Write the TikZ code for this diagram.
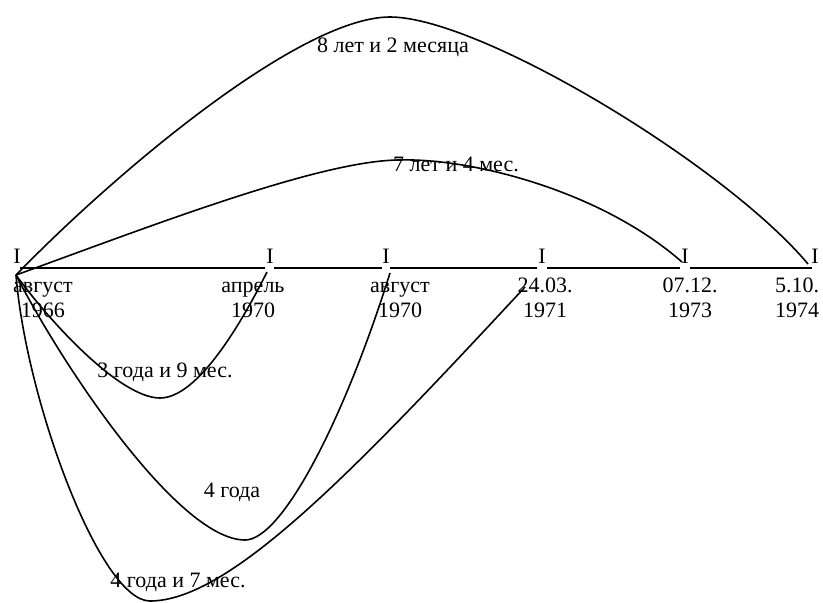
\documentclass[tikz,border=0pt]{standalone}
\usepackage{fontspec}
\setmainfont{Liberation Serif}
\begin{document}
\begin{tikzpicture}[x=1pt,y=-1pt,
  lbl/.style={font=\fontsize{22}{25}\selectfont, inner sep=0pt, anchor=base},
  datelbl/.style={lbl, align=center},
  tl/.style={line width=1.6pt},
  arcline/.style={line width=1.6pt}]
\useasboundingbox (0,0) rectangle (823,603);
% ticks
\node[lbl] (t1) at (17,263) {I};
\node[lbl] (t2) at (270,263) {I};
\node[lbl] (t3) at (386,263) {I};
\node[lbl] (t4) at (542,263) {I};
\node[lbl] (t5) at (685,263) {I};
\node[lbl] (t6) at (815,263) {I};
% timeline
\draw[tl] ([xshift=3pt,yshift=-5pt]t1.base) -- ([xshift=-5pt,yshift=-5pt]t2.base);
\draw[tl] ([xshift=4pt,yshift=-5pt]t2.base) -- ([xshift=-4pt,yshift=-5pt]t3.base);
\draw[tl] ([xshift=4pt,yshift=-5pt]t3.base) -- ([xshift=-5pt,yshift=-5pt]t4.base);
\draw[tl] ([xshift=5pt,yshift=-5pt]t4.base) -- ([xshift=-5pt,yshift=-5pt]t5.base);
\draw[tl] ([xshift=5pt,yshift=-5pt]t5.base) -- ([xshift=-3pt,yshift=-5pt]t6.base);
% dates (base anchor = last line)
\node[datelbl] (d1) at (43,317) {август\\1966};
\node[datelbl] (d2) at (253,317) {апрель\\1970};
\node[datelbl] (d3) at (400,317) {август\\1970};
\node[datelbl] (d4) at (545,317) {24.03.\\1971};
\node[datelbl] (d5) at (690,317) {07.12.\\1973};
\node[datelbl] (d6) at (797,317) {5.10.\\1974};
% curve end points
\coordinate (s) at (16,275);
\coordinate (eA) at (267,272);
\coordinate (eB) at (390,273);
\coordinate (eC) at (525,287);
\coordinate (e4) at (682,262);
\coordinate (e5) at (808,264);
% upper arcs
\draw[arcline] (s) .. controls (116,172) and (300,17) .. (390,17)
  .. controls (480,17) and (725,165) .. (e5);
\draw[arcline] (s) .. controls (146,228) and (320,160) .. (400,160)
  .. controls (470,158) and (600,190) .. (e4);
% lower curves
\draw[arcline] (s) .. controls (50,322) and (120,398) .. (160,398)
  .. controls (198,398) and (242,322) .. (eA);
\draw[arcline] (s) .. controls (66,372) and (180,540) .. (245,540)
  .. controls (282,540) and (344,420) .. (eB);
\draw[arcline] (s) .. controls (26,400) and (100,601) .. (150,601)
  .. controls (230,601) and (355,470) .. (eC);
% duration labels
\node[lbl] (l1) at (393,52) {8 лет и 2 месяца};
\node[lbl] (l2) at (456,171) {7 лет и 4 мес.};
\node[lbl] (l3) at (165,377) {3 года и 9 мес.};
\node[lbl] (l4) at (232,497) {4 года};
\node[lbl] (l5) at (178,587) {4 года и 7 мес.};
\end{tikzpicture}
\end{document}
